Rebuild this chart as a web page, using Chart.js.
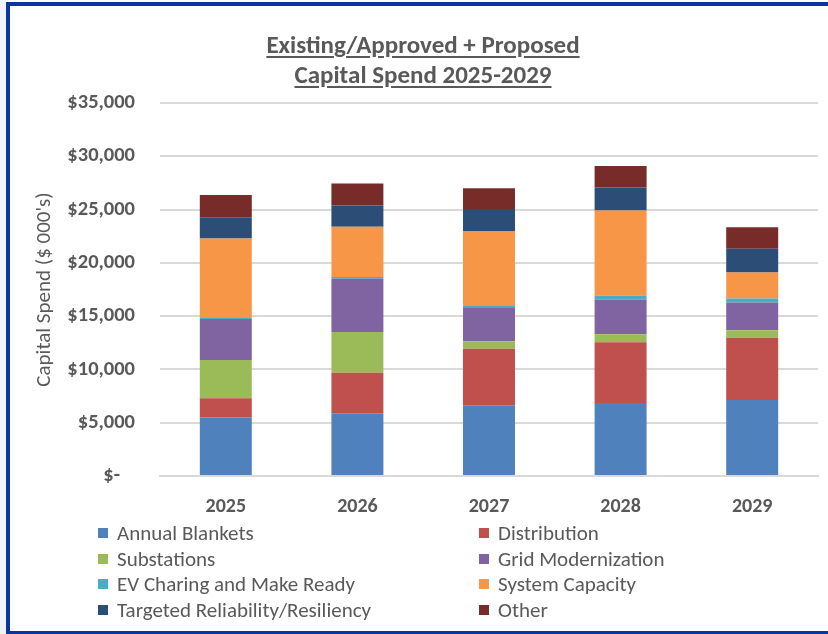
<!DOCTYPE html>
<html>
<head>
<meta charset="utf-8">
<script src="https://cdn.jsdelivr.net/npm/chart.js@4.4.1/dist/chart.umd.min.js"></script>
<style>
  body { margin: 0; width: 828px; height: 634px; position: relative; overflow: hidden; background: #fff; font-family: Carlito, Lato, sans-serif; }
  #strip { position: absolute; left: 0; top: 0; width: 6px; height: 634px; background: #eef3fc; }
  #leftBar { position: absolute; left: 6px; top: 2px; width: 4px; height: 632px; background: #0b34a3; }
  #topBar { position: absolute; left: 6px; top: 2px; width: 822px; height: 4px; background: #0b34a3; }
  #bottomBar { position: absolute; left: 6px; top: 631px; width: 822px; height: 3px; background: #0b34a3; }
  #title { position: absolute; left: 10px; width: 826px; top: 30px; text-align: center; color: #595959; font-weight: bold; font-size: 25px; line-height: 30px; text-decoration: underline; text-underline-offset: 3px; }
  #chartBox { position: absolute; left: 0; top: 0; width: 828px; height: 634px; }
  #legend { position: absolute; left: 98px; top: 520px; display: grid; grid-template-columns: 381px 300px; row-gap: 0; }
  .item { display: flex; align-items: center; height: 25.7px; color: #595959; font-size: 21px; }
  .sw { width: 10px; height: 10px; margin-right: 9px; }
</style>
</head>
<body>
<div id="strip"></div>
<div id="chartBox"><canvas id="barChart" width="828" height="634"></canvas></div>
<div id="title">Existing/Approved + Proposed<br>Capital Spend 2025-2029</div>
<div id="legend"></div>
<div id="leftBar"></div>
<div id="topBar"></div>
<div id="bottomBar"></div>
<script>
const years = ["2025", "2026", "2027", "2028", "2029"];
const seriesNames = ["Annual Blankets", "Distribution", "Substations", "Grid Modernization",
    "EV Charing and Make Ready", "System Capacity", "Targeted Reliability/Resiliency", "Other"];
const seriesColors = ["#4f81bd", "#c0504d", "#9bbb59", "#8064a2", "#4bacc6", "#f79646", "#2c4d75", "#772c2a"];

// values in $ 000's
const annualBlankets = [5500, 5880, 6630, 6850, 7130];
const distribution = [1790, 3810, 5320, 5690, 5850];
const substations = [3600, 3820, 690, 750, 690];
const gridModernization = [3850, 5000, 3190, 3250, 2600];
const evCharging = [150, 160, 190, 400, 375];
const systemCapacity = [7400, 4720, 6970, 7980, 2440];
const targetedReliability = [2000, 2000, 2070, 2160, 2250];
const other = [2070, 2060, 1940, 2000, 2000];

const allSeries = [annualBlankets, distribution, substations, gridModernization,
    evCharging, systemCapacity, targetedReliability, other];

const textColor = "#595959";
const fontFamily = "Carlito, Lato, sans-serif";

const chart = new Chart(document.getElementById("barChart"), {
    type: "bar",
    data: {
        labels: years,
        datasets: allSeries.map((vals, i) => ({
            label: seriesNames[i],
            data: vals,
            backgroundColor: seriesColors[i],
            borderWidth: 0,
            barPercentage: 0.395,
            categoryPercentage: 1
        }))
    },
    options: {
        responsive: false,
        animation: false,
        layout: { padding: { left: 0, right: 10, top: 103, bottom: 118 } },
        plugins: {
            legend: { display: false },
            tooltip: { enabled: false }
        },
        scales: {
            x: {
                stacked: true,
                grid: { display: false },
                border: { display: true, color: "#d9d9d9", width: 2 },
                ticks: {
                    color: textColor,
                    padding: 11,
                    font: { family: fontFamily, size: 20, weight: "bold" }
                },
                afterFit: s => { s.height = 40; }
            },
            y: {
                stacked: true,
                min: 0,
                max: 35000,
                border: { display: false },
                grid: { color: "#d9d9d9", lineWidth: 2, drawTicks: false },
                ticks: {
                    stepSize: 5000,
                    color: textColor,
                    padding: 25,
                    font: { family: fontFamily, size: 20.5, weight: "bold" },
                    callback: v => v === 0 ? "$-\u2007 " : "$" + v.toLocaleString("en-US")
                },
                title: {
                    display: true,
                    text: "Capital Spend ($ 000's)",
                    color: textColor,
                    padding: { top: 32, bottom: 0 },
                    font: { family: fontFamily, size: 21, weight: 500 }
                },
                afterFit: s => { s.width = 160; }
            }
        }
    }
});

// legend in two columns, built from the datasets
const legendBox = document.getElementById("legend");
chart.data.datasets.forEach(ds => {
    const item = document.createElement("div");
    item.className = "item";
    item.innerHTML = '<span class="sw" style="background:' + ds.backgroundColor + '"></span>' + ds.label;
    legendBox.appendChild(item);
});
</script>
</body>
</html>
